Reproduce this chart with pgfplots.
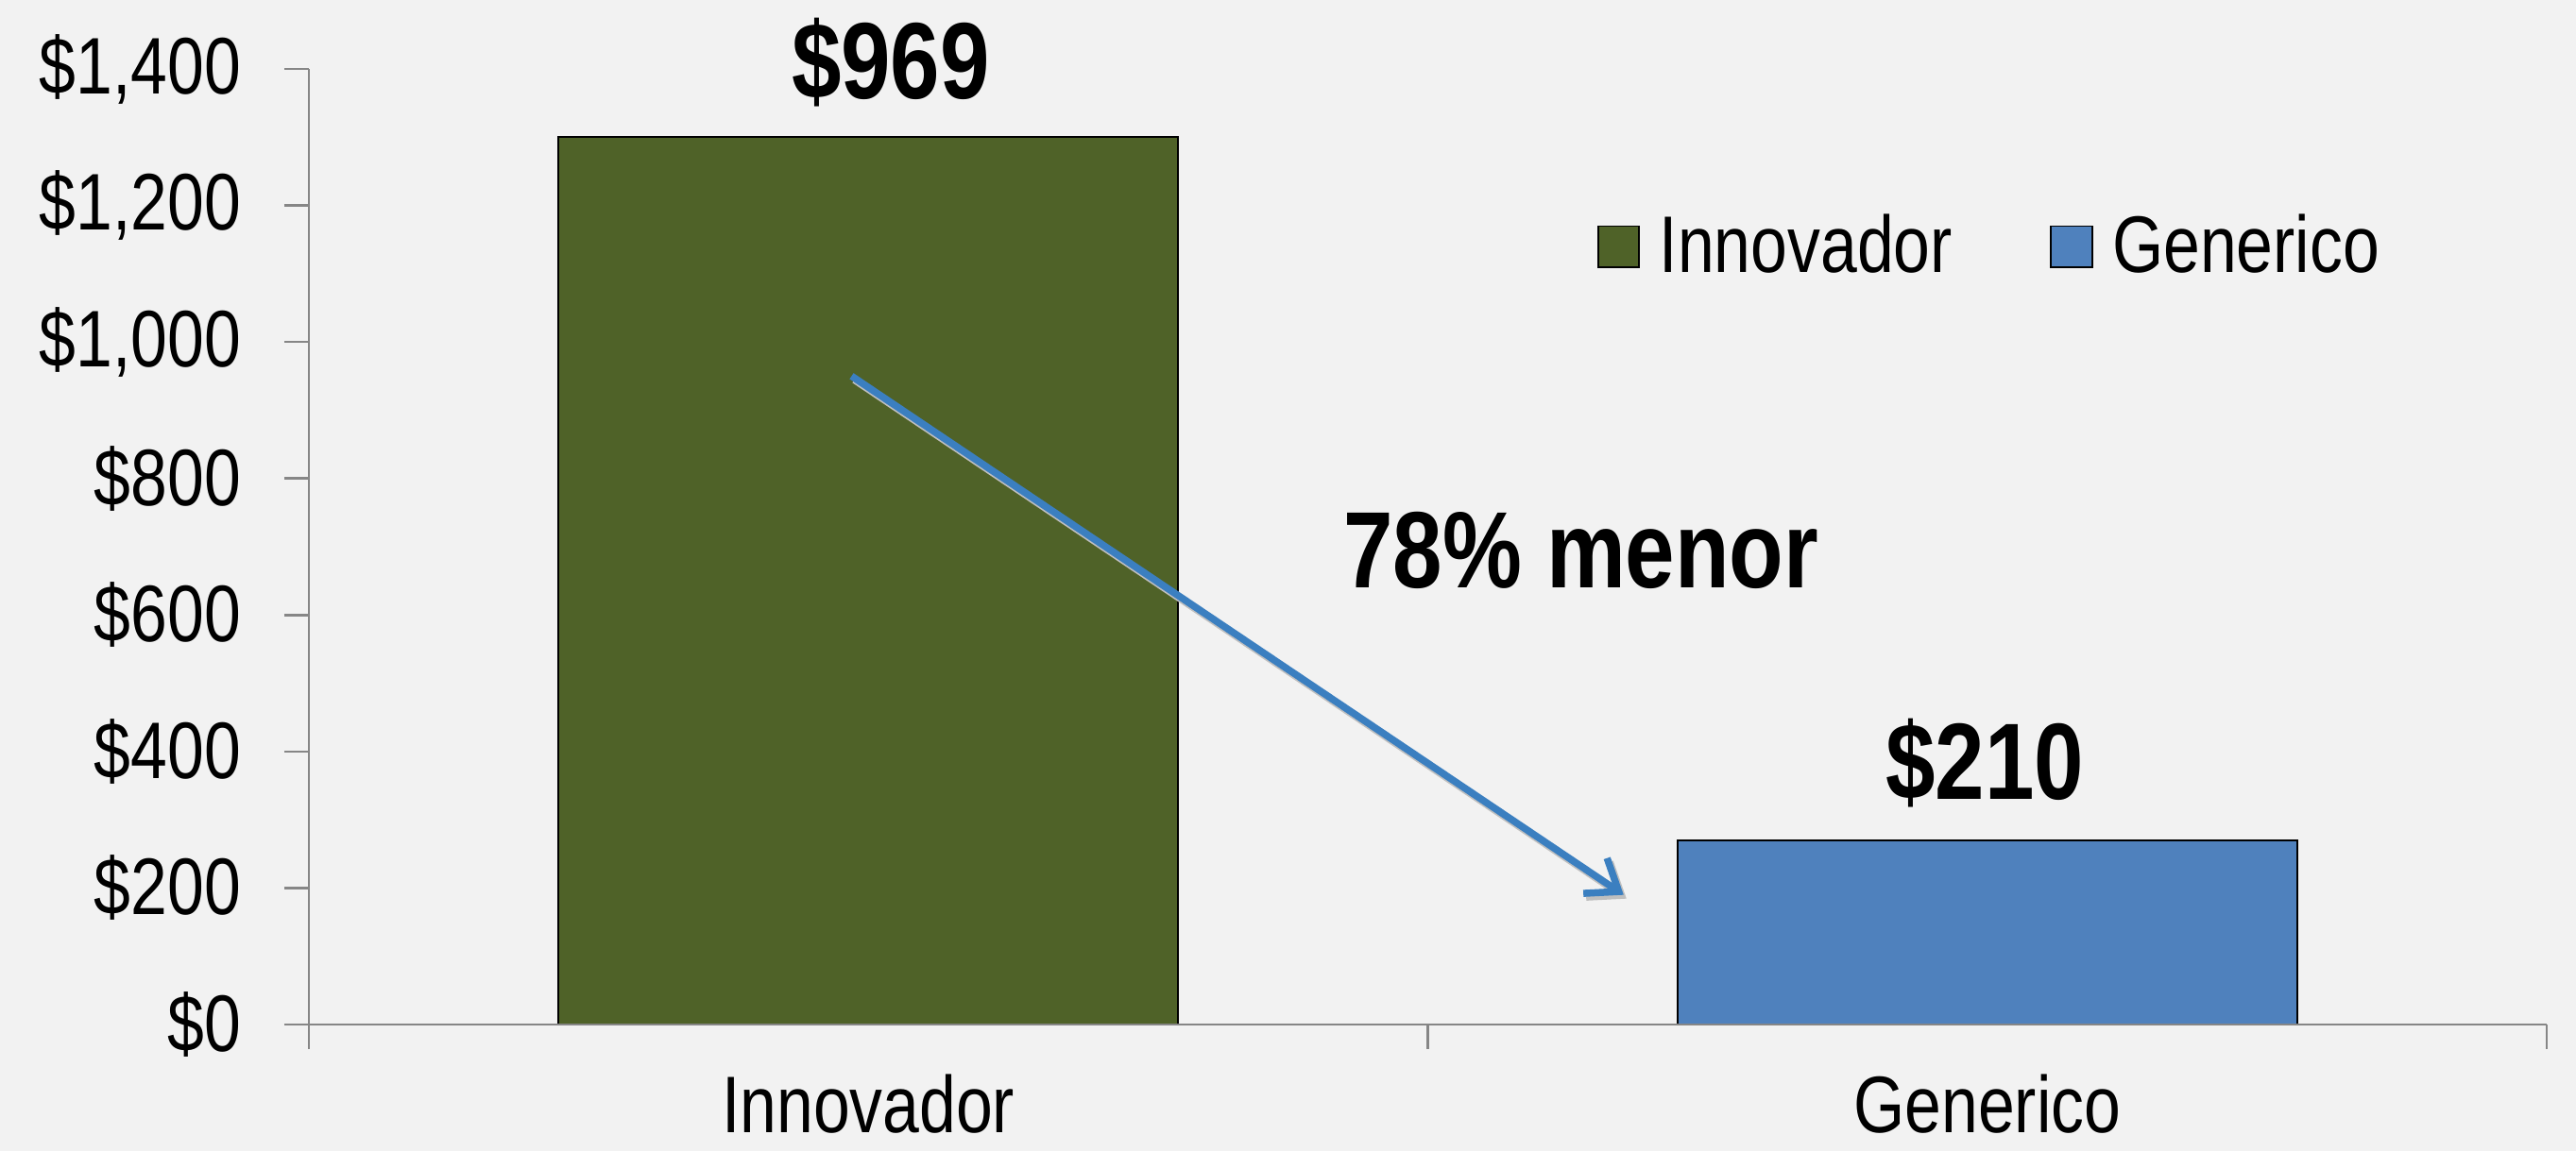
\documentclass[border=0pt]{standalone}
\usepackage{pgfplots}
\pgfplotsset{compat=1.18}
\usepackage{fontspec}
\setmainfont{Liberation Sans}[FakeStretch=0.82]
\usetikzlibrary{arrows.meta}
\definecolor{bg}{HTML}{F2F2F2}
\definecolor{inno}{HTML}{4F6228}
\definecolor{gen}{HTML}{4F81BD}
\definecolor{axgray}{HTML}{868686}
\definecolor{arrowblue}{HTML}{3B7FC0}
\begin{document}
\begin{tikzpicture}
\fill[bg] (-65.4pt,-26.8pt) rectangle (480pt,217pt);
\begin{axis}[
  at={(0,0)}, anchor=south west,
  scale only axis, width=473.8pt, height=202.4pt,
  xmin=-0.5, xmax=1.5, ymin=0, ymax=1400,
  axis x line*=bottom, axis y line*=left,
  axis line style={axgray, line width=0.5pt},
  clip=false, axis on top,
  ytick={0,200,...,1400},
  yticklabels={{\$0},{\$200},{\$400},{\$600},{\$800},{\$1,000},{\$1,200},{\$1,400}},
  xtick={-0.5,0.5,1.5}, xticklabels={},
  extra x ticks={0,1}, extra x tick labels={Innovador,Generico},
  extra x tick style={major tick length=0pt},
  tick align=outside, major tick length=5.2pt,
  tick style={axgray, line width=0.5pt},
  tick label style={font=\fontsize{17}{20}\selectfont, text=black},
  /pgf/number format/assume math mode=true,
  yticklabel style={xshift=-5.7pt},
  xticklabel style={inner sep=0pt, text depth=0pt, yshift=-10.4pt},
  legend style={at={(0.569,0.814)}, anchor=west, draw=none, fill=none,
    font=\fontsize{17}{20}\selectfont, legend columns=2,
    /tikz/every even column/.append style={column sep=18.7pt}},
  legend image code/.code={\draw[#1] (0pt,-4.35pt) rectangle (8.7pt,4.35pt); \path[draw=none,fill=none] (0pt,0pt) -- (11pt,0pt);},
]
\addplot[ybar, bar width=0.554, bar shift=0pt, fill=inno, draw=black, line width=0.35pt] coordinates {(0,1300)};
\addlegendentry{Innovador}
\addplot[ybar, bar width=0.554, bar shift=0pt, fill=gen, draw=black, line width=0.35pt] coordinates {(1,270)};
\addlegendentry{Generico}
\node[font=\bfseries\fontsize{23}{26}\selectfont, anchor=base] at (axis cs:0.02,1357) {\$969};
\node[font=\bfseries\fontsize{23}{26}\selectfont, anchor=base] at (axis cs:0.998,330) {\$210};
\node[font=\bfseries\fontsize{23}{26}\selectfont, anchor=base] at (axis cs:0.637,640) {78\% menor};
\draw[black!25, line width=1.5pt, -{Straight Barb[length=6pt,width=9pt]}, shift={(0.6pt,-0.8pt)}] (axis cs:-0.015,950) -- (axis cs:0.675,190);
\draw[arrowblue, line width=1.5pt, -{Straight Barb[length=6pt,width=9pt]}] (axis cs:-0.015,950) -- (axis cs:0.675,190);
\end{axis}
\pgfresetboundingbox
\path[use as bounding box] (-65.4pt,-26.8pt) rectangle (480pt,217pt);
\end{tikzpicture}
\end{document}
